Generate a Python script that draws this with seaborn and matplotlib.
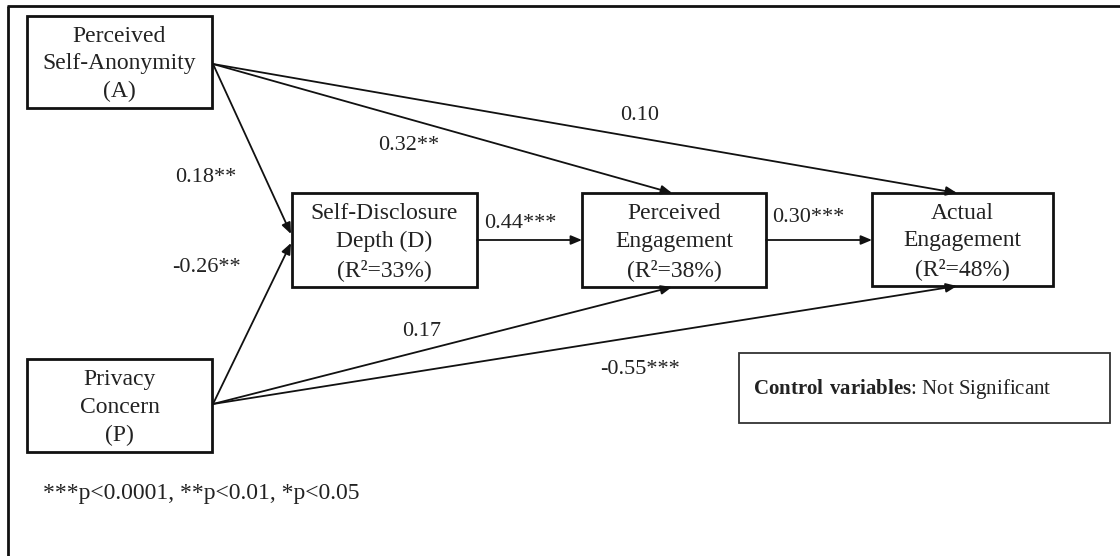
import matplotlib
matplotlib.use("Agg")
import matplotlib.pyplot as plt
from matplotlib.patches import Rectangle
import seaborn as sns

# ---- model content -------------------------------------------------------
node_ids = ["A", "P", "D", "PE", "AE"]
node_titles = [
    "Perceived\nSelf-Anonymity\n(A)",
    "Privacy\nConcern\n(P)",
    "Self-Disclosure\nDepth (D)",
    "Perceived\nEngagement",
    "Actual\nEngagement",
]
node_r2 = [None, None, 33, 38, 48]

path_from = ["A", "A", "A", "P", "P", "P", "D", "PE"]
path_to = ["D", "PE", "AE", "D", "PE", "AE", "PE", "AE"]
path_coef = [0.18, 0.32, 0.10, -0.26, 0.17, -0.55, 0.44, 0.30]
path_stars = ["**", "**", "", "**", "", "***", "***", "***"]

footnote = "***p<0.0001, **p<0.01, *p<0.05"
control_bold = "Control variables"
control_rest = ": Not Significant"

# ---- layout (canvas units = pixels, y downward) --------------------------
W, H = 1120, 556
box_xy = {
    "A": (27, 16, 212, 108),
    "P": (27, 359, 212, 452),
    "D": (292, 193, 477, 287),
    "PE": (582, 193, 766, 287),
    "AE": (872, 193, 1053, 286),
}
control_box = (739, 353, 1110, 423)

# start / end anchor of each path
path_geom = [
    ((213, 64), (291, 234)),
    ((213, 64), (672, 193)),
    ((213, 64), (957, 193)),
    ((213, 404), (291, 243)),
    ((213, 404), (672, 287)),
    ((213, 404), (957, 286)),
    ((477, 240), (582, 240)),
    ((766, 240), (872, 240)),
]
# coefficient label anchors (left x, center y)
label_pos = [
    (175, 178), (378, 146), (620, 116), (172, 267),
    (402, 332), (600, 370), (484, 224), (772, 218),
]

# ---- style ---------------------------------------------------------------
sns.set_theme(style="white")
plt.rcParams["font.family"] = ["Liberation Serif", "DejaVu Serif"]
plt.rcParams["mathtext.fontset"] = "custom"
plt.rcParams["mathtext.rm"] = "Liberation Serif"
plt.rcParams["mathtext.bf"] = "Liberation Serif:bold"

fig = plt.figure(figsize=(W / 100, H / 100), dpi=100)
ax = fig.add_axes([0, 0, 1, 1])
ax.set_xlim(0, W)
ax.set_ylim(H, 0)
ax.axis("off")

ink = "#111111"
txt = "#222222"

# outer frame (top and left edges)
ax.plot([7, W], [6, 6], color=ink, lw=2.0, solid_capstyle="butt")
ax.plot([8, 8], [6, H], color=ink, lw=2.0, solid_capstyle="butt")

# construct boxes
for nid, title, r2 in zip(node_ids, node_titles, node_r2):
    x0, y0, x1, y1 = box_xy[nid]
    ax.add_patch(Rectangle((x0, y0), x1 - x0, y1 - y0, fill=False,
                           edgecolor=ink, lw=2.0))
    text = title if r2 is None else f"{title}\n(R²={r2}%)"
    ax.text((x0 + x1) / 2, (y0 + y1) / 2 + 2, text, ha="center", va="center",
            multialignment="center", fontsize=17, color=txt,
            linespacing=1.42)

# structural paths
for (s, e), coef, st, (lx, ly) in zip(path_geom, path_coef, path_stars, label_pos):
    ax.annotate("", xy=e, xytext=s,
                arrowprops=dict(arrowstyle="-|>,head_length=0.6,head_width=0.25",
                                color=ink, lw=1.3, shrinkA=0, shrinkB=0,
                                mutation_scale=11))
    ax.text(lx, ly, f"{coef:.2f}{st}", ha="left", va="center",
            fontsize=16, color=txt)

# control variables note
cx0, cy0, cx1, cy1 = control_box
ax.add_patch(Rectangle((cx0, cy0), cx1 - cx0, cy1 - cy0, fill=False,
                       edgecolor="#333333", lw=1.3))
ax.text(cx0 + 14, (cy0 + cy1) / 2 + 1,
        r"$\mathbf{Control\ variables}$" + control_rest,
        ha="left", va="center", fontsize=15, color=txt)

# significance legend
ax.text(43, 493, footnote, ha="left", va="center", fontsize=17, color=txt)

fig.savefig("out.png", dpi=100)
